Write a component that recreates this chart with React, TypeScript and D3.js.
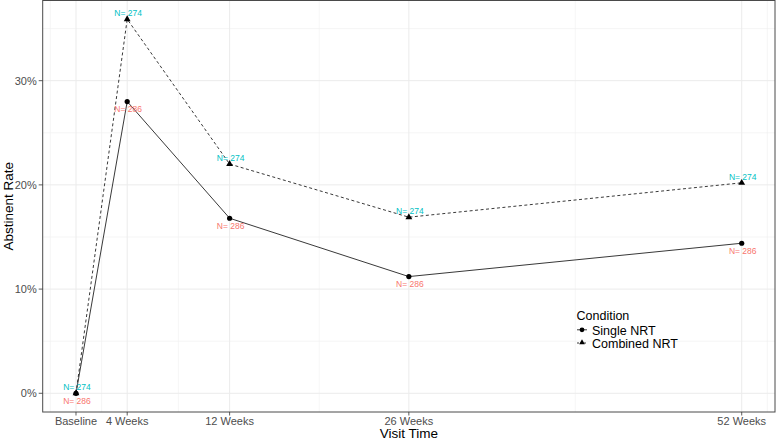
import React from 'react';
import * as d3 from 'd3';

const visitLabels = ['Baseline', '4 Weeks', '12 Weeks', '26 Weeks', '52 Weeks'];
const visitWeeks = [0, 4, 12, 26, 52];
const singleRate = [0, 0.28, 0.168, 0.112, 0.144];
const combinedRate = [0, 0.359, 0.22, 0.169, 0.202];
const singleN = [286, 286, 286, 286, 286];
const combinedN = [274, 274, 274, 274, 274];
const yTicks = [0, 0.1, 0.2, 0.3];
const yMinorTicks = [0.05, 0.15, 0.25, 0.35];
const xMinorTicks = [-2, 2, 8, 19, 39, 54];
const seriesNames = ['Single NRT', 'Combined NRT'];

const FONT = '"Liberation Sans", Arial, Helvetica, sans-serif';

export default function App() {
  const W = 778;
  const H = 441;
  const left = 42.7, right = 775, top = 0.5, bottom = 412;

  const allY = [...singleRate, ...combinedRate];
  const [xmin, xmax] = d3.extent(visitWeeks) as [number, number];
  const [ymin, ymax] = d3.extent(allY) as [number, number];
  const xPad = (xmax - xmin) * 0.05;
  const yPad = (ymax - ymin) * 0.05;

  const x = d3.scaleLinear().domain([xmin - xPad, xmax + xPad]).range([left, right]);
  const y = d3.scaleLinear().domain([ymin - yPad, ymax + yPad]).range([bottom, top]);

  const line = d3
    .line<number>()
    .x((_, i) => x(visitWeeks[i]))
    .y((d) => y(d));

  const tri = d3.symbol().type(d3.symbolTriangle).size(20)()!;
  const triSmall = d3.symbol().type(d3.symbolTriangle).size(14)()!;
  const pct = d3.format('.0%');

  return (
    <svg
      width={W}
      height={H}
      style={{ position: 'absolute', left: 0, top: 0, background: '#fff' }}
      fontFamily={FONT}
    >
      <rect x={0} y={0} width={W} height={H} fill="#fff" />
      {/* minor grid */}
      {yMinorTicks.map((t) => (
        <line key={'ym' + t} x1={left} x2={right} y1={y(t)} y2={y(t)} stroke="#F0F0F0" strokeWidth={0.6} />
      ))}
      {xMinorTicks.map((t) => (
        <line key={'xm' + t} x1={x(t)} x2={x(t)} y1={top} y2={bottom} stroke="#F0F0F0" strokeWidth={0.6} />
      ))}
      {/* major grid */}
      {yTicks.map((t) => (
        <line key={'yM' + t} x1={left} x2={right} y1={y(t)} y2={y(t)} stroke="#EBEBEB" strokeWidth={1} />
      ))}
      {visitWeeks.map((t) => (
        <line key={'xM' + t} x1={x(t)} x2={x(t)} y1={top} y2={bottom} stroke="#EBEBEB" strokeWidth={1} />
      ))}

      {/* lines */}
      <path d={line(singleRate) || ''} fill="none" stroke="#222" strokeWidth={0.9} />
      <path d={line(combinedRate) || ''} fill="none" stroke="#222" strokeWidth={0.9} strokeDasharray="3,2.5" />

      {/* points */}
      {singleRate.map((v, i) => (
        <circle key={'sp' + i} cx={x(visitWeeks[i])} cy={y(v)} r={2.6} fill="#000" />
      ))}
      {combinedRate.map((v, i) => (
        <path key={'cp' + i} d={tri} transform={`translate(${x(visitWeeks[i])},${y(v)})`} fill="#000" />
      ))}

      {/* N labels */}
      {combinedRate.map((v, i) => (
        <text
          key={'cl' + i}
          x={x(visitWeeks[i]) + 1}
          y={y(v) - 3}
          textAnchor="middle"
          fontSize={8.5}
          fill="#00BFC4"
        >
          {'N= ' + combinedN[i]}
        </text>
      ))}
      {singleRate.map((v, i) => (
        <text
          key={'sl' + i}
          x={x(visitWeeks[i]) + 1}
          y={y(v) + 10.5}
          textAnchor="middle"
          fontSize={8.5}
          fill="#F8766D"
        >
          {'N= ' + singleN[i]}
        </text>
      ))}

      {/* panel border */}
      <rect x={left} y={top} width={right - left} height={bottom - top} fill="none" stroke="#4a4a4a" strokeWidth={1} />

      {/* y axis */}
      {yTicks.map((t) => (
        <g key={'yt' + t}>
          <line x1={left - 4} x2={left} y1={y(t)} y2={y(t)} stroke="#333" strokeWidth={0.8} />
          <text x={left - 6} y={y(t)} dy="0.35em" textAnchor="end" fontSize={11} fill="#4D4D4D">
            {pct(t)}
          </text>
        </g>
      ))}
      {/* x axis */}
      {visitWeeks.map((t, i) => (
        <g key={'xt' + t}>
          <line x1={x(t)} x2={x(t)} y1={bottom} y2={bottom + 3.5} stroke="#333" strokeWidth={0.8} />
          <text x={x(t)} y={bottom + 13} textAnchor="middle" fontSize={11} fill="#4D4D4D">
            {visitLabels[i]}
          </text>
        </g>
      ))}

      {/* axis titles */}
      <text x={(left + right) / 2} y={437.5} textAnchor="middle" fontSize={13.5} fill="#000">
        Visit Time
      </text>
      <text
        transform={`translate(12.5,${(top + bottom) / 2}) rotate(-90)`}
        textAnchor="middle"
        fontSize={13.5}
        fill="#000"
      >
        Abstinent Rate
      </text>

      {/* legend */}
      <g>
        <text x={576.5} y={319.5} fontSize={12.5} fill="#000">
          Condition
        </text>
        <line x1={577} x2={587} y1={329.8} y2={329.8} stroke="#222" strokeWidth={0.9} />
        <circle cx={582} cy={329.8} r={2.4} fill="#000" />
        <text x={592} y={334.5} fontSize={12.5} fill="#000">
          {seriesNames[0]}
        </text>
        <line x1={577} x2={587} y1={343} y2={343} stroke="#222" strokeWidth={0.9} strokeDasharray="2,1.5" />
        <path d={triSmall} transform="translate(582,342.5)" fill="#000" />
        <text x={592} y={348} fontSize={12.5} fill="#000">
          {seriesNames[1]}
        </text>
      </g>
    </svg>
  );
}
